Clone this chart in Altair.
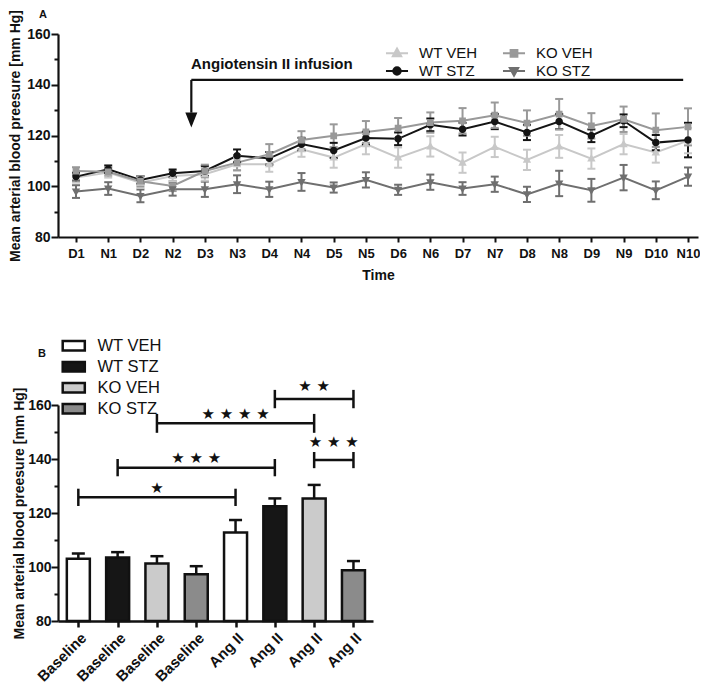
import json
import altair as alt
import pandas as pd

# ---------------- Panel A data ----------------
time_labels = ["D1", "N1", "D2", "N2", "D3", "N3", "D4", "N4", "D5", "N5",
               "D6", "N6", "D7", "N7", "D8", "N8", "D9", "N9", "D10", "N10"]
groups = ["WT VEH", "WT STZ", "KO VEH", "KO STZ"]

wt_veh_mean = [103.4, 105.4, 101.4, 104.0, 104.7, 108.7, 108.7, 114.6, 111.3, 116.6,
               111.3, 115.7, 109.3, 115.5, 110.4, 115.7, 110.9, 116.6, 113.3, 118.0]
wt_veh_err = [2.0, 2.0, 2.0, 2.0, 2.5, 2.5, 3.0, 3.0, 4.0, 4.0,
              4.0, 4.0, 4.0, 4.0, 4.0, 4.5, 4.0, 4.0, 4.0, 5.0]
wt_stz_mean = [103.8, 106.7, 102.5, 105.1, 106.0, 112.0, 111.0, 116.6, 114.1, 119.0,
               118.7, 124.2, 122.5, 125.5, 121.2, 125.5, 119.9, 125.8, 117.2, 118.2]
wt_stz_err = [1.5, 1.5, 1.5, 1.5, 2.0, 2.5, 2.5, 2.5, 3.0, 2.5,
              2.5, 2.5, 2.5, 3.0, 3.0, 3.0, 2.5, 2.5, 3.0, 6.8]
ko_veh_mean = [106.0, 105.7, 102.0, 100.1, 106.0, 109.3, 112.6, 118.2, 119.9, 121.4,
               122.9, 125.1, 125.8, 128.0, 124.9, 128.4, 123.8, 126.4, 122.1, 123.4]
ko_veh_err = [1.5, 1.5, 2.0, 2.0, 2.5, 3.0, 4.0, 3.5, 4.5, 4.3,
              4.0, 4.0, 5.0, 5.0, 5.0, 6.0, 5.0, 5.0, 6.6, 7.3]
ko_stz_mean = [97.9, 99.1, 96.2, 98.8, 98.8, 100.8, 98.8, 101.7, 99.5, 102.5,
               98.6, 101.6, 99.1, 100.8, 96.8, 101.1, 98.4, 103.4, 98.4, 103.8]
ko_stz_err = [2.5, 2.5, 2.5, 2.5, 3.0, 3.5, 3.0, 3.5, 2.0, 3.0,
              2.0, 3.0, 2.5, 3.0, 3.0, 5.0, 4.5, 5.0, 3.5, 3.6]

# Annotation (data units)
infusion_label = "Angiotensin II infusion"
infusion_text_x = 3.57
infusion_text_y = 146.2
arrow_x_start = 3.58
arrow_x_end = 18.85
arrow_y = 141.9
arrow_stem_end_y = 129.0
arrow_head_y = 126.1

# ---------------- Panel B data ----------------
bar_conditions = ["Baseline", "Baseline", "Baseline", "Baseline",
                  "Ang II", "Ang II", "Ang II", "Ang II"]
bar_groups = ["WT VEH", "WT STZ", "KO VEH", "KO STZ",
              "WT VEH", "WT STZ", "KO VEH", "KO STZ"]
bar_mean = [103.1, 103.5, 101.3, 97.3, 112.8, 122.5, 125.4, 98.8]
bar_err = [1.9, 2.0, 2.7, 3.0, 4.6, 2.9, 5.0, 3.4]

sig_left = [0, 1, 2, 5, 6]
sig_right = [4, 5, 6, 7, 7]
sig_y = [125.8, 136.8, 153.2, 162.2, 139.6]
sig_half = [3.2, 3.2, 3.5, 3.4, 3.0]
sig_stars = ["★", "★ ★ ★", "★ ★ ★ ★", "★ ★", "★ ★ ★"]
sig_star_y = [129.3, 140.2, 156.6, 167.0, 146.2]

# ---------------- styles ----------------
FONT = "Liberation Sans"
INK = "#111111"
line_color = {"WT VEH": "#c8c8c8", "WT STZ": "#141414", "KO VEH": "#999999", "KO STZ": "#6f6f6f"}
bar_fill = {"WT VEH": "#ffffff", "WT STZ": "#161616", "KO VEH": "#cbcbcb", "KO STZ": "#8b8b8b"}
shape_path = {
    "WT VEH": "M-1.47,0H1.47M0,-0.62L0.56,0.4L-0.56,0.4Z",
    "WT STZ": "M-1.47,0H1.47M-0.5,0A0.5,0.5 0 1,0 0.5,0A0.5,0.5 0 1,0 -0.5,0Z",
    "KO VEH": "M-1.47,0H1.47M-0.45,-0.45H0.45V0.45H-0.45Z",
    "KO STZ": "M-1.47,0H1.47M0,0.62L0.56,-0.4L-0.56,-0.4Z",
}

# ---------------- tables ----------------
means = {"WT VEH": wt_veh_mean, "WT STZ": wt_stz_mean, "KO VEH": ko_veh_mean, "KO STZ": ko_stz_mean}
errs = {"WT VEH": wt_veh_err, "WT STZ": wt_stz_err, "KO VEH": ko_veh_err, "KO STZ": ko_stz_err}
rows = []
for g in groups:
    for i, lab in enumerate(time_labels):
        m, e = means[g][i], errs[g][i]
        rows.append({"idx": i, "time": lab, "group": g, "mean": m, "lo": m - e, "hi": m + e})
df_top = pd.DataFrame(rows)

df_text = pd.DataFrame({"x": [infusion_text_x], "y": [infusion_text_y], "t": [infusion_label]})
df_hline = pd.DataFrame({"x": [arrow_x_start], "x2": [arrow_x_end], "y": [arrow_y]})
df_vline = pd.DataFrame({"x": [arrow_x_start], "y": [arrow_y], "y2": [arrow_stem_end_y]})
df_head = pd.DataFrame({"x": [arrow_x_start], "y": [arrow_head_y]})

df_bar = pd.DataFrame({
    "idx": list(range(len(bar_mean))),
    "cond": bar_conditions,
    "group": bar_groups,
    "mean": bar_mean,
    "hi": [m + e for m, e in zip(bar_mean, bar_err)],
})
df_sig = pd.DataFrame({
    "x1": sig_left, "x2": sig_right, "y": sig_y,
    "xm": [(a + b) / 2 for a, b in zip(sig_left, sig_right)],
    "ys": sig_star_y, "stars": sig_stars,
})
vrows = []
for a, b, y, h in zip(sig_left, sig_right, sig_y, sig_half):
    vrows.append({"x": a, "ylo": y - h, "yhi": y + h})
    vrows.append({"x": b, "ylo": y - h, "yhi": y + h})
df_sigv = pd.DataFrame(vrows)

# ---------------- Panel A chart ----------------
xs_top = alt.Scale(domain=[-0.559, 19.31], nice=False, zero=False)
ys = alt.Scale(domain=[80, 160], nice=False, zero=False)

y_title = "Mean arterial blood preesure [mm Hg]"
major_test = "datum.value % 20 === 0"
y_values = [80, 90, 100, 110, 120, 130, 140, 150, 160]

def y_axis(title_pad, label_pad):
    return alt.Axis(
        values=y_values, tickCount=len(y_values),
        labelExpr=f"{major_test} ? datum.label : ''",
        tickSize={"condition": {"test": major_test, "value": 7}, "value": 4},
        title=y_title, titleFontSize=14, titlePadding=title_pad,
        labelFontSize=14, labelPadding=label_pad, tickWidth=2, domainWidth=2.2,
        labelOverlap=False,
    )

top_x_axis = alt.Axis(
    values=list(range(len(time_labels))), tickCount=len(time_labels),
    labelExpr=json.dumps(time_labels) + "[datum.value]",
    title="Time", titleFontSize=14, titlePadding=8, labelOverlap=False,
    labelFontSize=13, labelPadding=5, tickSize=5, tickWidth=2, domainWidth=2.2,
)

top_legend = alt.Legend(
    orient="none", legendX=330.5, legendY=10.5, columns=2, direction="vertical",
    title=None, padding=0,
    symbolSize=225, symbolStrokeWidth=2, labelFontSize=15, labelFont=FONT,
    labelOffset=13.5, columnPadding=21, rowPadding=1,
)

col_scale = alt.Scale(domain=groups, range=[line_color[g] for g in groups])
sorted_groups = sorted(groups)
err_scale = alt.Scale(range=[line_color[g] for g in sorted_groups])
err_stroke = alt.Stroke("group:N", sort="ascending", scale=err_scale, legend=None)

base_top = alt.Chart(df_top)
x_plain = alt.X("idx:Q", scale=xs_top)

lines = base_top.mark_line(strokeWidth=2).encode(
    x=alt.X("idx:Q", scale=xs_top, axis=top_x_axis),
    y=alt.Y("mean:Q", scale=ys, axis=y_axis(4, 1)),
    color=alt.Color("group:N", scale=col_scale, legend=top_legend),
)
err_rules = base_top.mark_rule(strokeWidth=2).encode(
    x=x_plain, y=alt.Y("lo:Q", scale=ys), y2="hi:Q", stroke=err_stroke,
)
err_caps_hi = base_top.mark_rule(strokeWidth=2, xOffset=-4, x2Offset=4).encode(
    x=x_plain, x2="idx:Q", y=alt.Y("hi:Q", scale=ys), stroke=err_stroke,
)
err_caps_lo = base_top.mark_rule(strokeWidth=2, xOffset=-4, x2Offset=4).encode(
    x=x_plain, x2="idx:Q", y=alt.Y("lo:Q", scale=ys), stroke=err_stroke,
)
points = base_top.mark_point(filled=True, size=225, opacity=1).encode(
    x=x_plain, y=alt.Y("mean:Q", scale=ys),
    fill=alt.Fill("group:N", scale=col_scale, legend=top_legend),
    shape=alt.Shape("group:N", scale=alt.Scale(domain=groups,
                                                range=[shape_path[g] for g in groups]),
                    legend=top_legend),
)
ann_text = alt.Chart(df_text).mark_text(
    align="left", baseline="alphabetic", fontSize=15, fontWeight="bold", font=FONT, color=INK
).encode(x=alt.X("x:Q", scale=xs_top), y=alt.Y("y:Q", scale=ys), text="t:N")
ann_h = alt.Chart(df_hline).mark_rule(strokeWidth=2.2, color=INK).encode(
    x=alt.X("x:Q", scale=xs_top), x2="x2:Q", y=alt.Y("y:Q", scale=ys))
ann_v = alt.Chart(df_vline).mark_rule(strokeWidth=2.2, color=INK).encode(
    x=alt.X("x:Q", scale=xs_top), y=alt.Y("y:Q", scale=ys), y2="y2:Q")
ann_head = alt.Chart(df_head).mark_point(
    filled=True, opacity=1, color=INK, size=225, shape="M-0.8,-1L0.8,-1L0,1Z"
).encode(x=alt.X("x:Q", scale=xs_top), y=alt.Y("y:Q", scale=ys))

top = alt.layer(lines, err_rules, err_caps_hi, err_caps_lo, points,
                ann_text, ann_h, ann_v, ann_head).properties(
    width=640, height=203,
    title=alt.TitleParams("A", anchor="start", frame="group", dx=-19, offset=-10.5,
                          fontSize=11, fontWeight="bold", font=FONT, color=INK),
)

# ---------------- Panel B chart ----------------
xs_bot = alt.Scale(domain=[-0.39, 7.37], nice=False, zero=False)
bot_x_axis = alt.Axis(
    values=list(range(len(bar_conditions))), tickCount=len(bar_conditions),
    labelExpr=json.dumps(bar_conditions) + "[datum.value]",
    labelAngle=-45, labelAlign="right", labelBaseline="top", labelOverlap=False,
    labelFontSize=15, labelPadding=3, tickSize=6, tickWidth=2.5, domainWidth=2.5, title=None,
)
bot_legend = alt.Legend(
    orient="none", legendX=7.5, legendY=-67.5, direction="vertical", title=None, padding=0,
    symbolType="M-1.7,-0.74H1.7V0.74H-1.7Z", symbolSize=169,
    symbolStrokeColor=INK, symbolStrokeWidth=2.5,
    labelFontSize=16.5, labelFont=FONT, labelOffset=15.5, rowPadding=0,
)
xb = alt.X("idx:Q", scale=xs_bot)
bars = alt.Chart(df_bar).mark_bar(size=23, stroke=INK, strokeWidth=2.5).encode(
    x=alt.X("idx:Q", scale=xs_bot, axis=bot_x_axis),
    y=alt.Y("mean:Q", scale=ys, axis=y_axis(1, 0)),
    y2=alt.datum(80),
    fill=alt.Fill("group:N", scale=alt.Scale(domain=groups, range=[bar_fill[g] for g in groups]),
                  legend=bot_legend),
)
bar_err_rule = alt.Chart(df_bar).mark_rule(strokeWidth=2.5, color=INK).encode(
    x=xb, y=alt.Y("mean:Q", scale=ys), y2="hi:Q")
bar_err_cap = alt.Chart(df_bar).mark_rule(strokeWidth=2.5, color=INK, xOffset=-6.5, x2Offset=6.5).encode(
    x=xb, x2="idx:Q", y=alt.Y("hi:Q", scale=ys))
sig_h = alt.Chart(df_sig).mark_rule(strokeWidth=2.5, color=INK).encode(
    x=alt.X("x1:Q", scale=xs_bot), x2="x2:Q", y=alt.Y("y:Q", scale=ys))
sig_v = alt.Chart(df_sigv).mark_rule(strokeWidth=2.5, color=INK).encode(
    x=alt.X("x:Q", scale=xs_bot), y=alt.Y("ylo:Q", scale=ys), y2="yhi:Q")
sig_t = alt.Chart(df_sig).mark_text(font="DejaVu Sans", fontSize=15, baseline="middle",
                                    align="center", color=INK).encode(
    x=alt.X("xm:Q", scale=xs_bot), y=alt.Y("ys:Q", scale=ys), text="stars:N")

bottom = alt.layer(bars, bar_err_rule, bar_err_cap, sig_h, sig_v, sig_t).properties(
    width=315, height=216,
    title=alt.TitleParams("B", anchor="start", frame="group", dx=-20, offset=-21.5,
                          fontSize=11, fontWeight="bold", font=FONT, color=INK),
)

chart = alt.vconcat(top, bottom, spacing=55).resolve_scale(
    x="independent", y="independent", color="independent", fill="independent",
    shape="independent", stroke="independent",
).resolve_legend(
    color="independent", fill="independent", shape="independent", stroke="independent",
).resolve_axis(x="independent", y="independent").properties(
    padding={"left": 0, "top": 0, "right": 0, "bottom": 0}
).configure(font=FONT).configure_view(stroke=None).configure_axis(
    grid=False, domainColor=INK, tickColor=INK, labelColor=INK, titleColor=INK,
    labelFont=FONT, titleFont=FONT, labelFontWeight="bold", titleFontWeight="bold",
).configure_legend(labelColor=INK)

chart.save("out.html", embed_options={"renderer": "svg", "actions": False})
